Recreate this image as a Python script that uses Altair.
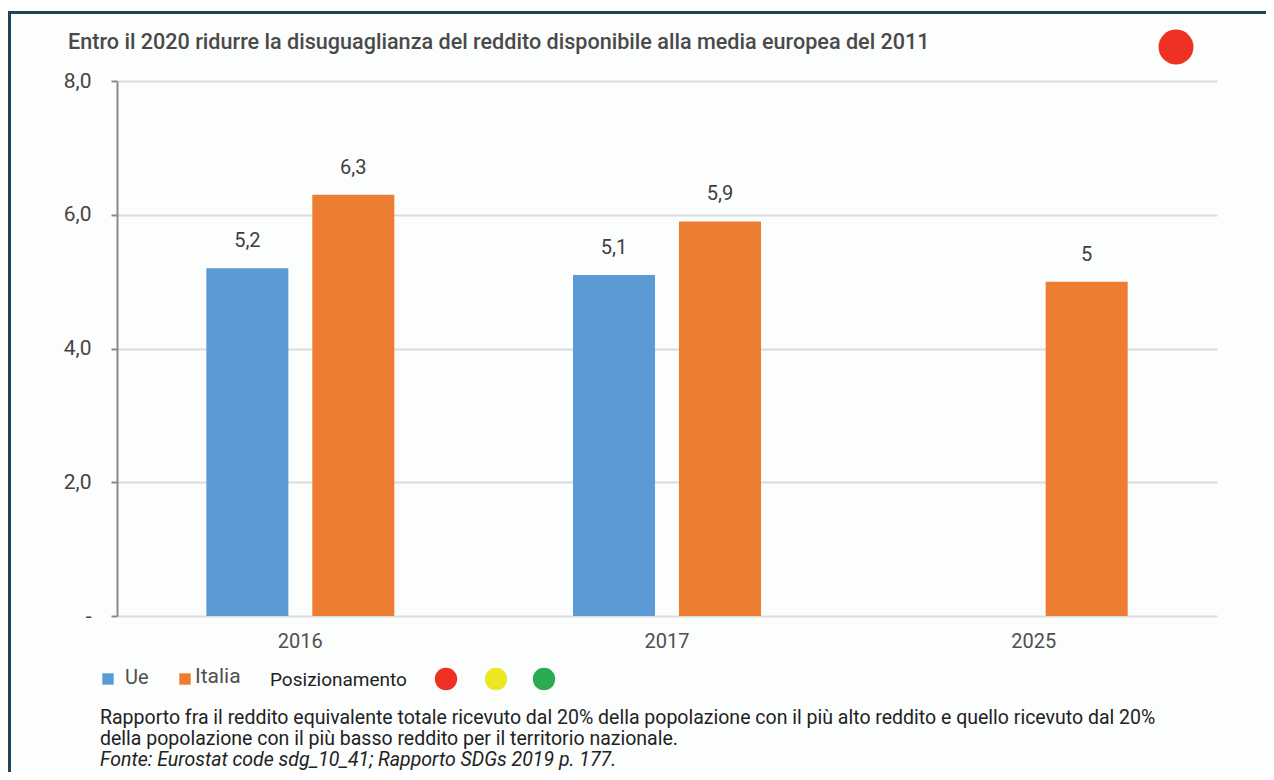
import altair as alt
import pandas as pd

years = ["2016", "2017", "2025"]
ue_values = [5.2, 5.1, None]
italia_values = [6.3, 5.9, 5.0]
series_names = ["Ue", "Italia"]
series_colors = ["#5b9bd5", "#ed7d31"]
y_ticks = [0, 2, 4, 6, 8]

title_text = "Entro il 2020 ridurre la disuguaglianza del reddito disponibile alla media europea del 2011"
footer_lines = [
    "Rapporto fra il reddito equivalente totale ricevuto dal 20% della popolazione con il più alto reddito e quello ricevuto dal 20%",
    "della popolazione con il più basso reddito per il territorio nazionale.",
]
source_text = "Fonte: Eurostat code sdg_10_41; Rapporto SDGs 2019 p. 177."
position_label = "Posizionamento"
position_colors = ["#ee3124", "#ece722", "#2baa4f"]
status_color = "#ee3124"

rows = []
for i, yr in enumerate(years):
    if ue_values[i] is not None:
        rows.append({"anno": yr, "serie": "Ue", "valore": ue_values[i]})
    if italia_values[i] is not None:
        rows.append({"anno": yr, "serie": "Italia", "valore": italia_values[i]})
df = pd.DataFrame(rows)

FONT = "Roboto"
W, H = 1100, 535

x_enc = alt.X("anno:N", sort=years,
              scale=alt.Scale(paddingInner=0, paddingOuter=0),
              axis=alt.Axis(title=None, domain=False, ticks=False, labelAngle=0,
                            labelFontSize=20, labelColor="#505050", labelFont=FONT,
                            labelPadding=15))
xo_enc = alt.XOffset("serie:N", sort=series_names,
                     scale=alt.Scale(paddingInner=0.226, paddingOuter=0.843))
y_enc = alt.Y("valore:Q",
              scale=alt.Scale(domain=[0, 8], nice=False),
              axis=alt.Axis(title=None, values=y_ticks, grid=True, gridColor="#dcdcdc",
                            gridWidth=2, domainColor="#8a8a8a", domainWidth=2,
                            tickColor="#8a8a8a", tickWidth=2, tickSize=6,
                            labelFontSize=21, labelColor="#444444", labelFont=FONT,
                            labelPadding=20,
                            labelExpr="datum.value == 0 ? '-\u00a0\u00a0\u00a0' : replace(format(datum.value, '.1f'), '.', ',')"))

color_enc = alt.Color("serie:N", scale=alt.Scale(domain=series_names, range=series_colors), legend=None)

bars = alt.Chart(df).mark_bar().encode(x=x_enc, xOffset=xo_enc, y=y_enc, color=color_enc)

labels = alt.Chart(df).transform_calculate(
    lab="replace(toString(datum.valore), '.', ',')"
).mark_text(dy=-27, fontSize=20, font=FONT, color="#404040").encode(
    x=x_enc, xOffset=xo_enc, y=y_enc, text="lab:N"
)

one = pd.DataFrame({"k": [0]})

def txt(text, x, y, size, color="#222222", weight="normal", style="normal", baseline="middle"):
    return alt.Chart(one).mark_text(
        text=text, align="left", baseline=baseline, fontSize=size, font=FONT,
        color=color, fontWeight=weight, fontStyle=style
    ).encode(x=alt.value(x), y=alt.value(y))

def dot(color, x, y, size, shape="circle"):
    return alt.Chart(one).mark_point(
        shape=shape, filled=True, color=color, opacity=1, size=size
    ).encode(x=alt.value(x), y=alt.value(y))

# frame
frame_left = alt.Chart(one).mark_rule(color="#1d4656", strokeWidth=3).encode(
    x=alt.value(-107.5), y=alt.value(-68.5), y2=alt.value(H + 200))
frame_top = alt.Chart(one).mark_rule(color="#1d4656", strokeWidth=3).encode(
    x=alt.value(-109), x2=alt.value(W + 60), y=alt.value(-68.5))

title = txt(title_text, -49, -38, 21.6, color="#4a4a4a", weight=500)
status = dot(status_color, 1059, -34, 1225)

legend_layers = [
    dot(series_colors[0], -9, 598, 130, "square"),
    txt(series_names[0], 8, 597, 20, color="#505050"),
    dot(series_colors[1], 68, 598, 130, "square"),
    txt(series_names[1], 78, 596, 21, color="#505050"),
    txt(position_label, 153, 599, 19, color="#222222"),
    dot(position_colors[0], 329, 598, 500),
    dot(position_colors[1], 379, 598, 500),
    dot(position_colors[2], 427, 598, 500),
]

footer_layers = [
    txt(footer_lines[0], -17, 637, 19.5),
    txt(footer_lines[1], -17, 658, 19.5),
    txt(source_text, -17, 679, 19.5, style="italic"),
]

chart = alt.layer(
    bars, labels, frame_left, frame_top, title, status, *legend_layers, *footer_layers
).properties(
    width=W, height=H,
    autosize=alt.AutoSizeParams(type="none"),
    padding={"left": 109, "top": 73, "right": 49, "bottom": 156},
    background="#fcfdfd",
).configure_view(stroke=None)

chart.save("out.html", embed_options={"renderer": "svg", "actions": False})
